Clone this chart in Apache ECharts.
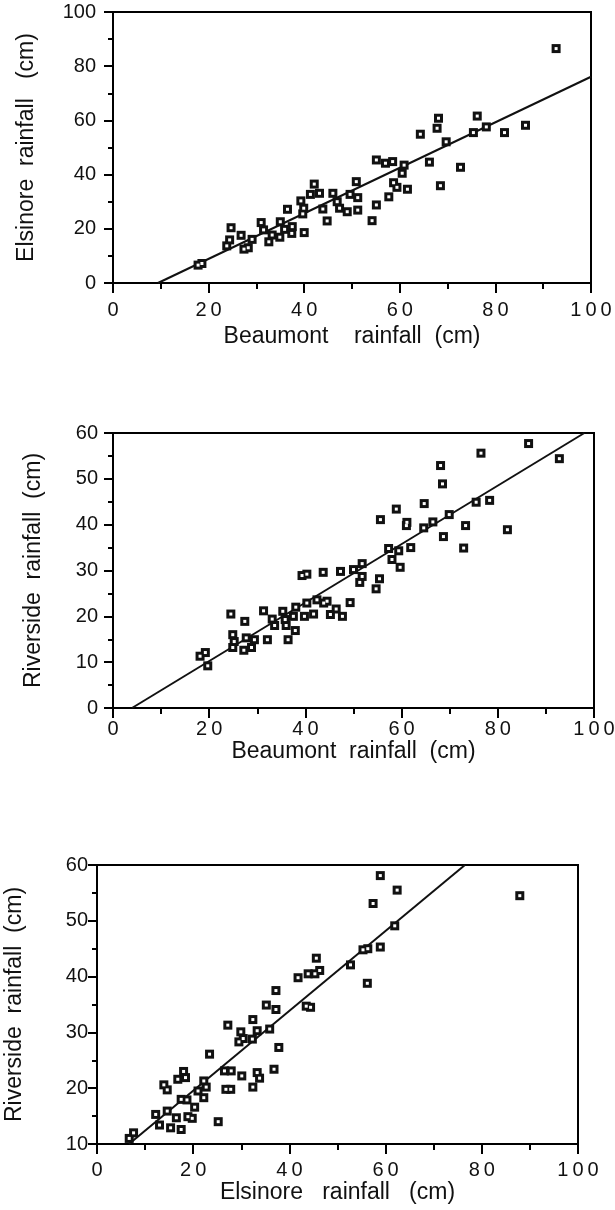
<!DOCTYPE html>
<html>
<head>
<meta charset="utf-8">
<script src="https://cdn.jsdelivr.net/npm/echarts@6/dist/echarts.min.js"></script>
<style>
  html, body { margin: 0; padding: 0; background: #fff; }
  #chart { width: 615px; height: 1210px; }
</style>
</head>
<body>
<div id="chart"></div>
<script>
// panel 1: Beaumont (x) vs Elsinore (y)
const beaumontA = [17.8, 18.6, 24.7, 24.4, 23.8, 26.8, 27.4, 28.3, 29.1, 31.0, 31.5, 32.6, 33.3, 34.9, 35.0,
  35.9, 37.4, 37.5, 40.0, 36.5, 39.3, 39.7, 39.9, 42.1, 41.3, 43.2, 43.9, 44.8, 46.0, 46.9, 47.4, 49.0, 51.2,
  50.9, 49.6, 51.2, 55.1, 54.2, 55.1, 57.0, 58.5, 57.7, 58.7, 59.4, 60.5, 60.9, 61.6, 66.2, 64.3, 68.1, 67.8,
  69.7, 72.7, 68.5, 75.4, 76.2, 78.1, 81.9, 86.3, 92.7];
const elsinoreA = [6.6, 7.2, 20.4, 15.9, 13.7, 17.6, 12.5, 13.0, 16.1, 22.3, 19.6, 15.2, 17.7, 16.9, 22.6,
  19.8, 18.3, 20.8, 18.6, 27.2, 30.3, 25.5, 27.6, 36.5, 32.7, 33.1, 27.3, 22.9, 33.1, 30.0, 27.6, 26.3, 26.9,
  37.4, 32.7, 31.5, 28.8, 23.0, 45.4, 44.2, 44.8, 31.8, 37.0, 35.3, 40.5, 43.5, 34.6, 44.6, 54.9, 60.8, 57.1,
  52.1, 42.7, 35.9, 55.5, 61.6, 57.6, 55.5, 58.2, 86.5];
const fitA = { intercept: -7.9, slope: 0.84 };

// panel 2: Beaumont (x) vs Riverside (y)
const beaumontB = [19.2, 18.1, 19.7, 24.5, 24.9, 25.2, 24.9, 27.4, 27.2, 27.7, 28.8, 29.4, 32.1, 31.3, 33.1,
  33.6, 35.3, 35.8, 36.0, 36.4, 37.9, 37.5, 38.0, 39.8, 40.3, 41.7, 42.4, 43.8, 44.5, 45.2, 46.4, 47.7, 49.3,
  39.3, 40.3, 43.7, 47.3, 50.0, 51.8, 51.8, 51.3, 55.4, 54.7, 55.6, 58.9, 61.1, 61.0, 64.7, 64.6, 66.5, 68.1,
  68.5, 68.7, 69.9, 57.3, 59.4, 61.9, 58.0, 59.7, 73.3, 72.9, 75.5, 78.3, 76.5, 82.0, 86.4, 92.8];
const riversideB = [12.1, 11.3, 9.2, 20.5, 16.0, 14.5, 13.2, 18.9, 12.6, 15.3, 13.2, 14.9, 14.9, 21.2, 19.4,
  18.0, 21.1, 19.3, 18.0, 14.9, 16.9, 20.0, 22.0, 20.0, 22.9, 20.5, 23.6, 22.9, 23.3, 20.4, 21.6, 20.0, 23.0,
  28.9, 29.2, 29.6, 29.8, 30.2, 31.5, 28.7, 27.4, 28.2, 26.0, 41.1, 43.4, 40.5, 39.8, 44.6, 39.3, 40.6, 52.9,
  48.9, 37.4, 42.2, 34.8, 34.3, 35.0, 32.4, 30.7, 39.8, 34.9, 44.9, 45.3, 55.6, 38.9, 57.7, 54.4];
const fitB = { intercept: -2.52, slope: 0.638 };

// panel 3: Elsinore (x) vs Riverside (y)
const elsinoreC = [6.7, 7.6, 12.2, 13.0, 13.9, 14.6, 14.6, 15.3, 16.5, 17.5, 16.8, 18.0, 18.4, 17.5, 18.7,
  18.9, 19.8, 20.3, 21.0, 22.2, 22.7, 22.2, 23.4, 25.2, 27.2, 26.5, 27.9, 26.8, 27.8, 30.1, 29.9, 29.5, 30.4,
  32.3, 32.4, 33.3, 33.3, 33.8, 32.4, 35.2, 37.2, 37.2, 35.9, 37.8, 36.8, 41.8, 43.9, 45.3, 46.3, 45.6, 43.5,
  44.4, 58.9, 62.4, 57.4, 61.9, 55.3, 56.3, 58.9, 52.7, 56.2, 87.9];
const riversideC = [11.0, 12.0, 15.3, 13.4, 20.6, 19.7, 15.9, 12.9, 14.7, 12.6, 21.6, 23.0, 21.9, 18.0, 17.9,
  14.9, 14.6, 16.6, 19.5, 21.3, 20.2, 18.3, 26.1, 14.0, 31.3, 23.1, 23.1, 19.8, 19.8, 22.2, 30.1, 28.3, 28.9,
  28.8, 32.3, 30.3, 22.8, 21.8, 20.2, 34.9, 34.1, 37.5, 30.6, 27.3, 23.4, 39.8, 40.5, 40.5, 41.1, 43.3, 34.7,
  34.5, 58.1, 55.5, 53.1, 49.1, 44.8, 45.0, 45.3, 42.1, 38.8, 54.5];
const fitC = { intercept: 5.23, slope: 0.716 };

const xTicks = { min: 0, max: 100, interval: 20 };
const yTicksA = { min: 0, max: 100, interval: 20 };
const yTicksB = { min: 0, max: 60, interval: 10 };
const yTicksC = { min: 10, max: 60, interval: 10 };

const FONT = "Liberation Sans";

const pairs = (xs, ys) => xs.map((x, i) => [x, ys[i]]);

// regression line clipped to the axis box
function fitLine(fit, xr, yr) {
  let x0 = Math.max(xr.min, (yr.min - fit.intercept) / fit.slope);
  let x1 = Math.min(xr.max, (yr.max - fit.intercept) / fit.slope);
  return [[x0, fit.intercept + fit.slope * x0], [x1, fit.intercept + fit.slope * x1]];
}

function xAxis(idx, name, labelMargin, nameGap) {
  return {
    type: "value", gridIndex: idx,
    min: xTicks.min, max: xTicks.max, interval: xTicks.interval,
    axisLine: { show: true, onZero: false, lineStyle: { color: "#000", width: 2 } },
    axisTick: { show: true, inside: false, length: 10, lineStyle: { color: "#000", width: 2 } },
    minorTick: { show: true, splitNumber: 2, length: 6, lineStyle: { color: "#000", width: 2 } },
    splitLine: { show: false },
    minorSplitLine: { show: false },
    axisLabel: {
      color: "#111", fontSize: 20, fontFamily: FONT, margin: labelMargin,
      showMinLabel: true, showMaxLabel: true, hideOverlap: false,
      formatter: (v) => String(v).split("").join("\u2009"),
    },
    name: name, nameLocation: "middle", nameGap: nameGap, nameMoveOverlap: false,
    nameTextStyle: { color: "#111", fontSize: 23, fontFamily: FONT },
  };
}

function yAxis(idx, t, name, labelMargin, nameGap) {
  return {
    type: "value", gridIndex: idx,
    min: t.min, max: t.max, interval: t.interval,
    axisLine: { show: true, onZero: false, lineStyle: { color: "#000", width: 2 } },
    axisTick: { show: true, inside: false, length: 9, lineStyle: { color: "#000", width: 2 } },
    minorTick: { show: true, splitNumber: 2, length: 5, lineStyle: { color: "#000", width: 2 } },
    splitLine: { show: false },
    minorSplitLine: { show: false },
    axisLabel: {
      color: "#111", fontSize: 20, fontFamily: FONT, margin: labelMargin,
      showMinLabel: true, showMaxLabel: true, hideOverlap: false,
    },
    name: name, nameLocation: "middle", nameGap: nameGap, nameMoveOverlap: false,
    nameTextStyle: { color: "#111", fontSize: 23, fontFamily: FONT },
  };
}

// dark square marker, then a tiny white square on top of it
function scatter(idx, data) {
  return [
    {
      type: "scatter", xAxisIndex: idx, yAxisIndex: idx,
      data: data, symbol: "rect", symbolSize: 9,
      itemStyle: { color: "#111", opacity: 1 },
      silent: true, animation: false, z: 4,
    },
    {
      type: "scatter", xAxisIndex: idx, yAxisIndex: idx,
      data: data, symbol: "rect", symbolSize: 3,
      itemStyle: { color: "#fff", opacity: 1 },
      silent: true, animation: false, z: 5,
    },
  ];
}

function line(idx, data) {
  return {
    type: "line", xAxisIndex: idx, yAxisIndex: idx,
    data: data, showSymbol: false, symbol: "none", clip: true,
    lineStyle: { color: "#111", width: 2 },
    silent: true, animation: false, z: 3,
  };
}

const gridBase = {
  show: true, borderColor: "#000", borderWidth: 2, backgroundColor: "transparent",
  containLabel: false, outerBoundsMode: "none",
};

const chart = echarts.init(document.getElementById("chart"), null, { renderer: "canvas" });

chart.setOption({
  backgroundColor: "#fff",
  animation: false,
  grid: [
    Object.assign({ left: 113, top: 12, width: 478, height: 271 }, gridBase),
    Object.assign({ left: 113, top: 433, width: 481, height: 275 }, gridBase),
    Object.assign({ left: 97, top: 865, width: 481, height: 279 }, gridBase),
  ],
  xAxis: [
    xAxis(0, "Beaumont    rainfall  (cm)", 17, 42),
    xAxis(1, "Beaumont  rainfall  (cm)", 11, 32),
    xAxis(2, "Elsinore   rainfall   (cm)", 16, 37),
  ],
  yAxis: [
    yAxis(0, yTicksA, "Elsinore  rainfall   (cm)", 17, 75),
    yAxis(1, yTicksB, "Riverside  rainfall  (cm)", 15, 68),
    yAxis(2, yTicksC, "Riverside  rainfall  (cm)", 9, 71),
  ],
  series: [
    line(0, fitLine(fitA, xTicks, yTicksA)),
    ...scatter(0, pairs(beaumontA, elsinoreA)),
    line(1, fitLine(fitB, xTicks, yTicksB)),
    ...scatter(1, pairs(beaumontB, riversideB)),
    line(2, fitLine(fitC, xTicks, yTicksC)),
    ...scatter(2, pairs(elsinoreC, riversideC)),
  ],
});
</script>
</body>
</html>
